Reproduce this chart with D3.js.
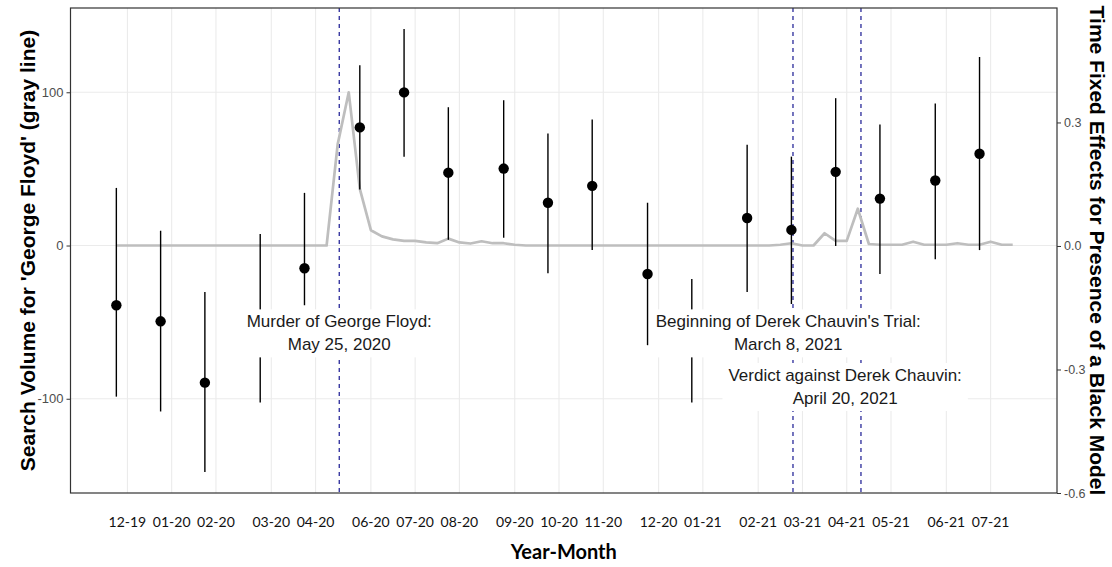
<!DOCTYPE html>
<html><head><meta charset="utf-8">
<script src="https://cdn.jsdelivr.net/npm/d3@7"></script>
<style>body{margin:0;background:#fff}</style>
</head><body><svg id="chart" width="1112" height="567"></svg>
<script>
// ---------- DATA ----------
const searchStart = "2020-01-05"; // first weekly observation (Google Trends weeks)
const searchVolume = [
  0,0,0,0,0,0,0,0,0,0, 0,0,0,0,0,0,0,0,0,0,
  66,100,37,10,6,4,3,3,2,1.5, 4.5,2,1.3,2.8,1.5,1.5,0.5,0,0,0,
  0,0,0,0,0,0,0,0,0,0, 0,0,0,0,0,0,0,0,0,0,
  0.5,1.5,0,0,8,3,3,24,1,0.5, 0.5,0.5,2.5,0.5,0.5,0.5,1.5,0.5,0.5,2.5,
  0.5,0.5
];
const monthDates = ["2020-01-05","2020-02-02","2020-03-01","2020-04-05","2020-05-03","2020-06-07",
  "2020-07-05","2020-08-02","2020-09-06","2020-10-04","2020-11-01","2020-12-06","2021-01-03",
  "2021-02-07","2021-03-07","2021-04-04","2021-05-02","2021-06-06","2021-07-04"];
const estimates = [-0.144,-0.183,-0.332,-0.176,-0.054,0.288,0.373,0.178,0.188,0.105,0.146,-0.068,-0.229,0.068,0.039,0.180,0.115,0.159,0.224];
const ciLow  = [-0.366,-0.402,-0.549,-0.380,-0.144,0.137,0.217,0.015,0.020,-0.066,-0.010,-0.241,-0.380,-0.112,-0.141,0.000,-0.068,-0.032,-0.010];
const ciHigh = [0.141,0.037,-0.112,0.029,0.129,0.439,0.527,0.337,0.354,0.273,0.307,0.105,-0.080,0.246,0.217,0.359,0.295,0.346,0.459];
const tickDates = ["2020-01-12","2020-02-09","2020-03-08","2020-04-12","2020-05-10","2020-06-14",
  "2020-07-12","2020-08-09","2020-09-13","2020-10-11","2020-11-08","2020-12-13","2021-01-10",
  "2021-02-14","2021-03-14","2021-04-11","2021-05-09","2021-06-13","2021-07-11"];
const tickLabels = ["12-19","01-20","02-20","03-20","04-20","06-20","07-20","08-20","09-20","10-20",
  "11-20","12-20","01-21","02-21","03-21","04-21","05-21","06-21","07-21"];
const leftTicks = [-100, 0, 100];
const rightTicks = [-0.6, -0.3, 0.0, 0.3];
const eventDates = ["2020-05-25","2021-03-08","2021-04-20"];
const eventLabels = [["Murder of George Floyd:","May 25, 2020"],
  ["Beginning of Derek Chauvin's Trial:","March 8, 2021"],
  ["Verdict against Derek Chauvin:","April 20, 2021"]];
const labelDates = ["2020-05-25","2021-03-05","2021-04-10"];
const labelValues = [-57, -57, -92];

// ---------- LAYOUT ----------
const parse = d3.utcParse("%Y-%m-%d");
const svg = d3.select("#chart");
const P = {left:70.5, right:1057, top:8, bottom:493};

const weeks = searchVolume.map((v,i)=>({date:d3.utcDay.offset(parse(searchStart), 7*i), v}));
const x = d3.scaleUtc()
  .domain([d3.utcDay.offset(parse(searchStart), -29), d3.utcDay.offset(weeks[weeks.length-1].date, 28)])
  .range([P.left, P.right]);
const yL = d3.scaleLinear().domain([-161.5, 155]).range([P.bottom, P.top]);
const yR = d3.scaleLinear().domain([-0.6, 0.578]).range([P.bottom, P.top]);

const g = svg.append("g");
// grid
g.selectAll(".gy").data(leftTicks).join("line")
  .attr("x1",P.left).attr("x2",P.right).attr("y1",d=>yL(d)).attr("y2",d=>yL(d))
  .attr("stroke","#ebebeb").attr("stroke-width",1.1);
g.selectAll(".gx").data(tickDates).join("line")
  .attr("x1",d=>x(parse(d))).attr("x2",d=>x(parse(d))).attr("y1",P.top).attr("y2",P.bottom)
  .attr("stroke","#ebebeb").attr("stroke-width",1.1);

// event lines
g.selectAll(".ev").data(eventDates).join("line")
  .attr("x1",d=>x(parse(d))).attr("x2",d=>x(parse(d))).attr("y1",P.top).attr("y2",P.bottom)
  .attr("stroke","#2a2a9a").attr("stroke-width",1.3).attr("stroke-dasharray","4,4");

// gray search line
g.append("path").datum(weeks)
  .attr("d", d3.line().x(d=>x(d.date)).y(d=>yL(d.v)))
  .attr("fill","none").attr("stroke","#bebebe").attr("stroke-width",2.7).attr("stroke-linejoin","round");

// error bars + points
const pts = monthDates.map((d,i)=>({date:parse(d), est:estimates[i], lo:ciLow[i], hi:ciHigh[i]}));
g.selectAll(".eb").data(pts).join("line")
  .attr("x1",d=>x(d.date)).attr("x2",d=>x(d.date)).attr("y1",d=>yR(d.lo)).attr("y2",d=>yR(d.hi))
  .attr("stroke","#000").attr("stroke-width",1.4);
g.selectAll(".pt").data(pts).join("circle")
  .attr("cx",d=>x(d.date)).attr("cy",d=>yR(d.est)).attr("r",5.2)
  .attr("fill","#000");

// annotation labels
eventLabels.forEach((lines,i)=>{
  const cx = x(parse(labelDates[i])), cy = yL(labelValues[i]);
  const lg = svg.append("g");
  const rect = lg.append("rect").attr("fill","#fff");
  const t = lg.append("text").attr("text-anchor","middle")
    .attr("font-family","Liberation Sans, Arial, sans-serif").attr("font-size",17).attr("fill","#1a1a1a");
  lines.forEach((s,j)=>{
    t.append("tspan").attr("x",cx).attr("y",cy + (j-0.5)*23 + 6).text(s);
  });
  const bb = t.node().getBBox();
  rect.attr("x",bb.x-6).attr("y",bb.y-3).attr("width",bb.width+12).attr("height",bb.height+6);
});

// panel border
svg.append("rect").attr("x",P.left).attr("y",P.top).attr("width",P.right-P.left).attr("height",P.bottom-P.top)
  .attr("fill","none").attr("stroke","#333").attr("stroke-width",1.2);

// left axis
const axL = svg.append("g").attr("transform",`translate(${P.left},0)`)
  .call(d3.axisLeft(yL).tickValues(leftTicks).tickSize(4).tickPadding(3).tickFormat(d3.format("d")));
axL.select(".domain").remove();
axL.selectAll("line").attr("stroke","#333");
axL.selectAll("text").attr("font-family","Liberation Sans, Arial, sans-serif").attr("font-size",13).attr("fill","#4d4d4d")
  .text(d=>String(d));

// right axis
const axR = svg.append("g").attr("transform",`translate(${P.right},0)`)
  .call(d3.axisRight(yR).tickValues(rightTicks).tickSize(4).tickPadding(3).tickFormat(d3.format(".1f")));
axR.select(".domain").remove();
axR.selectAll("line").attr("stroke","#333");
axR.selectAll("text").attr("font-family","Liberation Sans, Arial, sans-serif").attr("font-size",12.5).attr("fill","#4d4d4d")
  .text(d=>d.toFixed(1));

// x axis labels (no tick marks)
svg.append("g").selectAll("text").data(tickDates).join("text")
  .attr("x",d=>x(parse(d))).attr("y",527).attr("text-anchor","middle")
  .attr("font-family","Lato, 'Open Sans', sans-serif").attr("font-size",14).attr("fill","#111")
  .text((d,i)=>tickLabels[i]);

// titles
svg.append("text").attr("transform",`translate(35,${(P.top+P.bottom)/2}) rotate(-90)`)
  .attr("text-anchor","middle").attr("font-family","Liberation Sans, Arial, sans-serif")
  .attr("font-weight","bold").attr("font-size",21).attr("fill","#000")
  .text("Search Volume for 'George Floyd' (gray line)");
svg.append("text").attr("transform",`translate(1090,${(P.top+P.bottom)/2}) rotate(90)`)
  .attr("text-anchor","middle").attr("font-family","Liberation Sans, Arial, sans-serif")
  .attr("font-weight","bold").attr("font-size",21).attr("fill","#000")
  .text("Time Fixed Effects for Presence of a Black Model");
svg.append("text").attr("x",(P.left+P.right)/2).attr("y",559)
  .attr("text-anchor","middle").attr("font-family","Lato, 'Open Sans', sans-serif")
  .attr("font-weight","bold").attr("font-size",20).attr("fill","#000")
  .text("Year-Month");
</script></body></html>
